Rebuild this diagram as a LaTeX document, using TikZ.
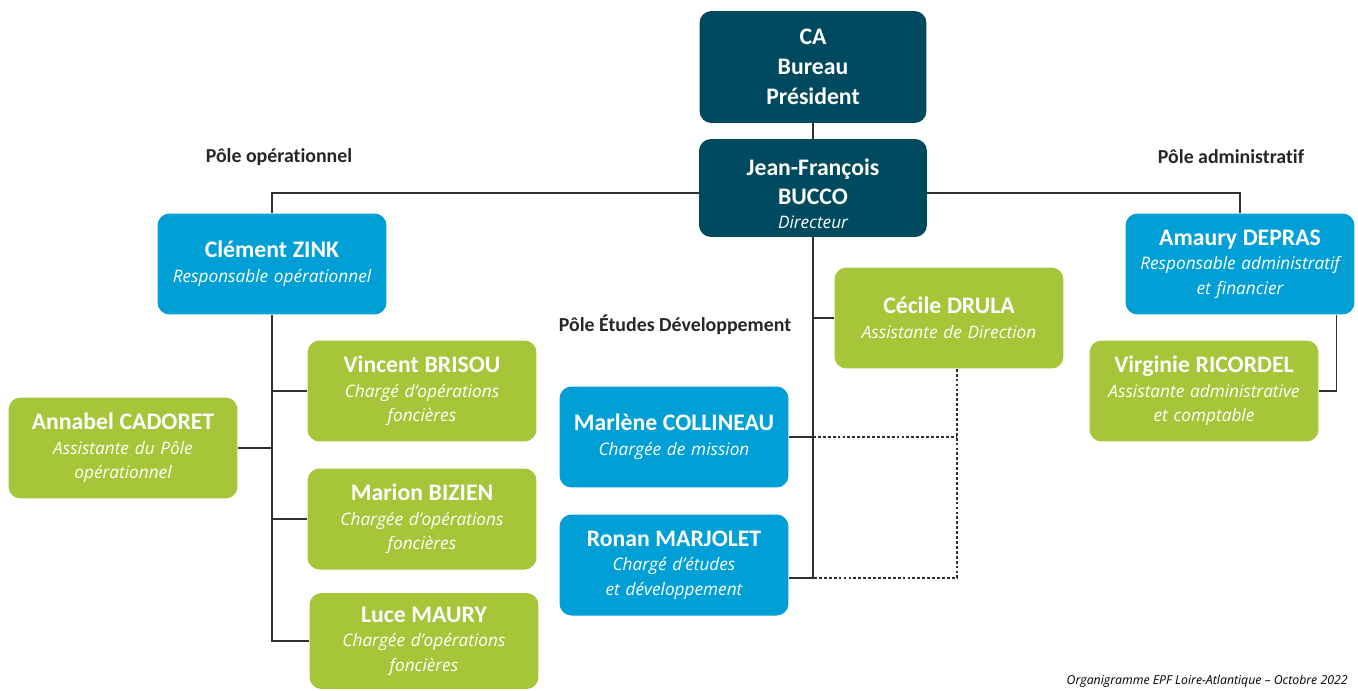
\documentclass[tikz,border=0pt]{standalone}
\usepackage{fontspec}
\setmainfont{Carlito}[Ligatures=CommonOff]
\newfontfamily\rolefamily{Open Sans}[Ligatures=CommonOff]
\usetikzlibrary{backgrounds}
\definecolor{epfteal}{HTML}{004A5F}
\definecolor{epfblue}{HTML}{00A0D6}
\definecolor{epfgreen}{HTML}{A6C539}
\definecolor{trait}{HTML}{303030}
\newcommand{\nom}[1]{{\fontsize{13.5}{15}\selectfont\bfseries #1}}
\newcommand{\fonction}[1]{{\rolefamily\itshape\fontsize{9.8}{14}\selectfont #1}}

\begin{document}
\begin{tikzpicture}[x=0.02cm,y=-0.02cm,
  box/.style={rounded corners=6.8pt,minimum width=4.58cm,minimum height=2.02cm,
    text width=4.5cm,align=center,text=white,inner sep=0pt,
    font=\fontsize{9.8}{14}\selectfont},
  chef/.style={box,fill=epfteal},
  resp/.style={box,fill=epfblue},
  agent/.style={box,fill=epfgreen},
  pole/.style={font=\fontsize{11.3}{13}\selectfont\bfseries,text=black!85},
  lien/.style={draw=trait,line width=0.7pt},
  pointille/.style={lien,dash pattern=on 1.6pt off 1.2pt}]
\useasboundingbox (0,0) rectangle (1358,690);

% direction
\node[chef,minimum width=4.54cm,minimum height=2.24cm,font=\fontsize{13.5}{17}\selectfont\bfseries]
  (ca) at (813,67) {CA\\Bureau\\Président};
\node[chef,minimum width=4.56cm,minimum height=1.96cm] (bucco) at (813,188)
  {\rule{0pt}{16pt}\nom{Jean-François}\\[2.5pt]\nom{BUCCO}\\[-0.5pt]\fonction{Directeur}};

% poles
\node[pole] (poleop) at (279,157) {Pôle opérationnel};
\node[pole] (poleadm) at (1231,157) {Pôle administratif};
\node[pole] (poleetu) at (675,325) {Pôle Études Développement};

\node[resp] (zink) at (272,264) {\nom{Clément ZINK}\\\fonction{Responsable opérationnel}};
\node[resp] (depras) at (1240,264) {\nom{Amaury DEPRAS}\\\fonction{Responsable administratif\\et financier}};
\node[agent] (drula) at (949,318) {\nom{Cécile DRULA}\\\fonction{Assistante de Direction}};

\node[agent] (brisou) at (422,391) {\nom{Vincent BRISOU}\\\fonction{Chargé d’opérations\\foncières}};
\node[agent] (cadoret) at (123,448) {\nom{Annabel CADORET}\\\fonction{Assistante du Pôle\\opérationnel}};
\node[agent] (bizien) at (422,519) {\nom{Marion BIZIEN}\\\fonction{Chargée d’opérations\\foncières}};
\node[agent,minimum height=1.92cm] (maury) at (424,641) {\nom{Luce MAURY}\\\fonction{Chargée d’opérations\\foncières}};

\node[resp] (collineau) at (674,437) {\nom{Marlène COLLINEAU}\\\fonction{Chargée de mission}};
\node[resp] (marjolet) at (674,565) {\nom{Ronan MARJOLET}\\\fonction{Chargé d’études\\et développement}};

\node[agent] (ricordel) at (1204,391) {\nom{Virginie RICORDEL}\\\fonction{Assistante administrative\\et comptable}};

\node[anchor=east,inner sep=0pt,font=\rolefamily\itshape\fontsize{7}{8}\selectfont] (legende) at (1348,681)
  {Organigramme EPF Loire-Atlantique – Octobre 2022};

% liaisons
\coordinate (barre) at (813,193);
\coordinate (spine) at (813,578);
\coordinate (lspine) at (272,641);
\coordinate (dashfoot) at (957,578);
\begin{scope}[on background layer]
\draw[lien] (ca) -- (bucco);
\draw[lien] (zink.north) |- (barre) -| (depras.north);
\draw[lien] (bucco.south) -- (spine) -- (spine -| marjolet.east);
\draw[lien] (drula.west) -- (drula.west -| spine);
\draw[lien] (collineau.east) -- (collineau.east -| spine);
\draw[pointille] (drula.south -| dashfoot) -- (dashfoot) -- (spine);
\draw[pointille] (collineau.east -| spine) -- (collineau.east -| dashfoot);
\draw[lien] (zink.south) -- (lspine) -- (lspine -| maury.west);
\draw[lien] (brisou.west) -- (brisou.west -| lspine);
\draw[lien] (bizien.west) -- (bizien.west -| lspine);
\draw[lien] (cadoret.east) -- (cadoret.east -| lspine);
\draw[lien] ([xshift=-0.36cm]depras.south east) |- (ricordel.east);
\end{scope}
\end{tikzpicture}
\end{document}
